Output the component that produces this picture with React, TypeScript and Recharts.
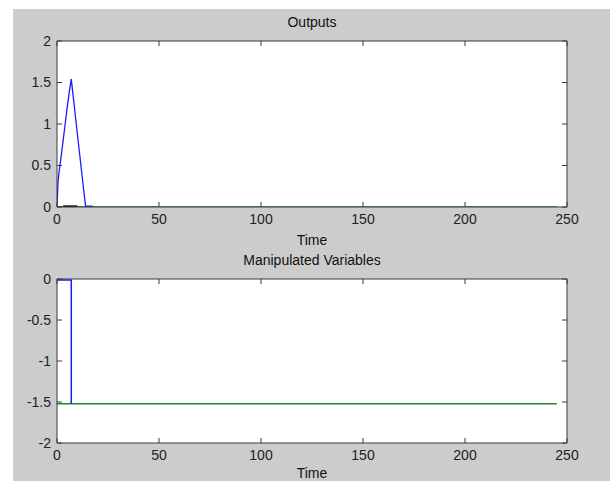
import React from 'react';
import { LineChart, Line, XAxis, YAxis } from 'recharts';

const xTicks = [0, 50, 100, 150, 200, 250];
const topYTicks = [0, 0.5, 1, 1.5, 2];
const botYTicks = [-2, -1.5, -1, -0.5, 0];

// Outputs
const outBlue = [
  { t: 0, v: 0 }, { t: 0.5, v: 0.3 }, { t: 1, v: 0.42 }, { t: 2, v: 0.6 }, { t: 3, v: 0.8 },
  { t: 4, v: 1.0 }, { t: 5, v: 1.2 }, { t: 6, v: 1.38 }, { t: 7, v: 1.54 }, { t: 8, v: 1.32 },
  { t: 9, v: 1.1 }, { t: 10, v: 0.88 }, { t: 11, v: 0.66 }, { t: 12, v: 0.44 }, { t: 13, v: 0.22 },
  { t: 14, v: 0.01 }, { t: 17.5, v: 0.01 },
];
const outGreen = [{ t: 0, v: 0 }, { t: 245, v: 0 }];
const outBlack = [{ t: 3, v: 0.008 }, { t: 10, v: 0.008 }];

// Manipulated variables
const mvBlue = [{ t: 0, v: -0.012 }, { t: 7, v: -0.012 }, { t: 7, v: -1.52 }];
const mvGreen = [{ t: 0, v: -1.52 }, { t: 245, v: -1.52 }];

const FONT = '"Liberation Sans", Arial, sans-serif';
const tickStyle = { fontSize: 14, fill: '#222', fontFamily: FONT };
const AX = '#3a3a3a';
const NoLabel = () => <g />;

function Frame({ yTicks, yDomain }: any) {
  return [
    <XAxis key="xb" xAxisId="b" dataKey="t" type="number" domain={[0, 250]} ticks={xTicks}
      allowDataOverflow height={30} tickSize={-5} tickMargin={12} stroke={AX}
      tick={tickStyle} interval={0} />,
    <XAxis key="xt" xAxisId="t" orientation="top" dataKey="t" type="number" domain={[0, 250]} ticks={xTicks}
      allowDataOverflow height={10} tickSize={-5} tickMargin={2} tick={NoLabel} stroke={AX} interval={0} />,
    <YAxis key="yl" yAxisId="l" type="number" domain={yDomain} ticks={yTicks} allowDataOverflow
      width={40} tickSize={-5} tickMargin={11} stroke={AX} tick={tickStyle} interval={0} />,
    <YAxis key="yr" yAxisId="r" orientation="right" type="number" domain={yDomain} ticks={yTicks}
      allowDataOverflow width={10} tickSize={-5} tickMargin={2} tick={NoLabel} stroke={AX} interval={0} />,
  ];
}

const textStyle: React.CSSProperties = {
  position: 'absolute', left: 57, width: 510, textAlign: 'center',
  fontFamily: FONT, fontSize: 14, color: '#111', lineHeight: '16px',
};

export default function App() {
  return (
    <div style={{ position: 'absolute', left: 0, top: 0, width: 610, height: 481, background: '#fff', overflow: 'hidden' }}>
      <div style={{ position: 'absolute', left: 13, top: 9, width: 597, height: 472, background: '#cccccc' }} />
      <div style={{ position: 'absolute', left: 57, top: 41, width: 510, height: 166, background: '#fff' }} />
      <div style={{ position: 'absolute', left: 57, top: 279, width: 510, height: 164, background: '#fff' }} />
      <div style={{ ...textStyle, top: 14 }}>Outputs</div>
      <div style={{ ...textStyle, top: 232 }}>Time</div>
      <div style={{ ...textStyle, top: 252 }}>Manipulated Variables</div>
      <div style={{ ...textStyle, top: 465 }}>Time</div>

      <div style={{ position: 'absolute', left: 0, top: 0 }}>
        <LineChart width={610} height={250} margin={{ top: 31, right: 33, left: 17, bottom: 13 }}>
          {Frame({ yTicks: topYTicks, yDomain: [0, 2] })}
          <Line xAxisId="t" yAxisId="r" data={outGreen} dataKey="v" stroke="none" dot={false} activeDot={false} isAnimationActive={false} />
          <Line xAxisId="b" yAxisId="l" data={outGreen} dataKey="v" stroke="#4ea84e" strokeWidth={2} dot={false} isAnimationActive={false} />
          <Line xAxisId="b" yAxisId="l" data={outBlack} dataKey="v" stroke="#111" strokeWidth={2} dot={false} isAnimationActive={false} />
          <Line xAxisId="b" yAxisId="l" data={outBlue} dataKey="v" stroke="#1a1aff" strokeWidth={1.3} dot={false} isAnimationActive={false} />
        </LineChart>
      </div>

      <div style={{ position: 'absolute', left: 0, top: 250 }}>
        <LineChart width={610} height={231} margin={{ top: 19, right: 33, left: 17, bottom: 8 }}>
          {Frame({ yTicks: botYTicks, yDomain: [-2, 0] })}
          <Line xAxisId="t" yAxisId="r" data={mvGreen} dataKey="v" stroke="none" dot={false} activeDot={false} isAnimationActive={false} />
          <Line xAxisId="b" yAxisId="l" data={mvGreen} dataKey="v" stroke="#1a8a1a" strokeWidth={1.5} dot={false} isAnimationActive={false} />
          <Line xAxisId="b" yAxisId="l" data={mvBlue} dataKey="v" stroke="#1a1aff" strokeWidth={1.5} dot={false} isAnimationActive={false} />
        </LineChart>
      </div>
    </div>
  );
}
